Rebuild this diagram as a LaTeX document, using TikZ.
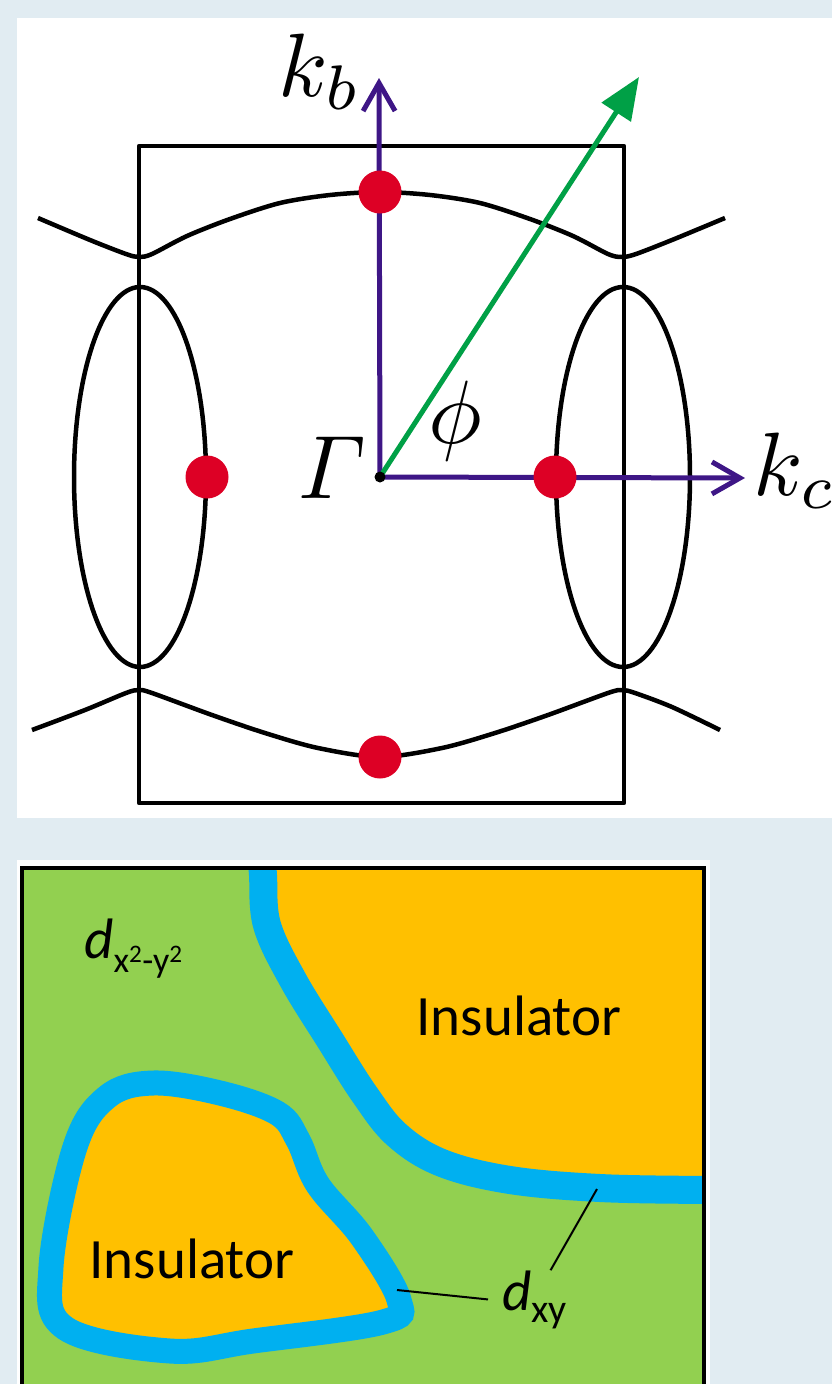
\documentclass[tikz,border=0pt]{standalone}
\usepackage{amsmath}
\usepackage{fontspec}
\newfontfamily\calibfont{Carlito}
\usetikzlibrary{arrows.meta, positioning}

\definecolor{bgblue}{RGB}{225,236,242}
\definecolor{axispurple}{RGB}{62,22,134}
\definecolor{arrowgreen}{RGB}{0,160,70}
\definecolor{dotred}{RGB}{221,0,37}
\definecolor{phasegreen}{RGB}{146,208,80}
\definecolor{phaseorange}{RGB}{255,192,0}
\definecolor{phaseblue}{RGB}{0,176,240}

\begin{document}
\begin{tikzpicture}[
    x=1pt, y=-1pt,
    fermi/.style={line width=4.5pt, draw=black, line join=round},
    axis/.style={line width=5pt, draw=axispurple, -{Straight Barb[length=28pt, width=32pt]}},
    qvec/.style={line width=5pt, draw=arrowgreen, -{Triangle[length=42pt, width=34pt]}},
    kpoint/.style={circle, fill=dotred, minimum size=43pt, inner sep=0pt},
    gammadot/.style={circle, fill=black, minimum size=11pt, inner sep=0pt},
    mathlbl/.style={inner sep=0pt, scale=9},
    phaselbl/.style={inner sep=0pt, font=\calibfont\fontsize{57}{64}\selectfont},
    leader/.style={line width=2pt, draw=black}
]
\useasboundingbox (0,0) rectangle (832,1384);
\fill[bgblue] (0,0) rectangle (832,1384);

% --- top panel: Brillouin zone ---
\fill[white] (17,18) rectangle (832,818);
\draw[fermi] (139,146) rectangle (624,803);

\draw[fermi] plot[smooth, tension=0.5] coordinates {(38,218) (90,240) (126,254) (139,257) (152,254) (187,236) (230,219) (280,203) (330,195) (380,192) (430,195) (480,203) (530,219) (573,236) (608,254) (622,257) (636,254) (672,240) (725,218)};
\draw[fermi] plot[smooth, tension=0.5] coordinates {(32,730) (85,710) (126,693) (139,690) (152,693) (212,715) (265,733) (318,748) (380,757) (442,748) (495,733) (548,715) (608,693) (622,690) (635,693) (672,707) (720,730)};
\draw[fermi] (140,477) ellipse [x radius=66, y radius=190];
\draw[fermi] (623,477) ellipse [x radius=67, y radius=190];

\coordinate (G) at (380,477);
\coordinate (kbend) at (379,78);
\coordinate (kcend) at (745,478);
\coordinate (qend) at (639,77);

\draw[axis] (G) -- (kbend);
\draw[axis] (G) -- (kcend);
\draw[qvec] (G) -- (qend);

\node[kpoint] (dotT) at (380,192) {};
\node[kpoint] (dotB) at (380,757) {};
\node[kpoint] (dotL) at (207,477) {};
\node[kpoint] (dotR) at (555,477) {};
\node[gammadot] (Gdot) at (G) {};

\node[mathlbl, anchor=base east] (kblabel) at (363,96) {$k_b$};
\node[mathlbl, anchor=base west] (kclabel) at (752,495) {$k_c$};
\node[mathlbl, anchor=base east] (glabel) at (368,498) {$\varGamma$};
\node[mathlbl, anchor=base] (philabel) at (455,443) {$\phi$};

% --- bottom panel: phase map ---
\fill[white] (17,860) rectangle (710,1384);
\begin{scope}
\clip (22,868) rectangle (704,1384);
\fill[phasegreen] (22,868) rectangle (704,1384);
\fill[phaseorange] plot[smooth, tension=0.6] coordinates {(262,860) (263,875) (267,925) (293,980) (330,1040) (365,1095) (397,1135) (442,1163) (510,1180) (600,1188) (703,1190) (712,1190)} -- (712,860) -- cycle;
\draw[phaseblue, line width=28pt] plot[smooth, tension=0.6] coordinates {(262,860) (263,875) (267,925) (293,980) (330,1040) (365,1095) (397,1135) (442,1163) (510,1180) (600,1188) (703,1190) (712,1190)};
\filldraw[fill=phaseorange, draw=phaseblue, line width=25pt] plot[smooth cycle, tension=0.6] coordinates {(153,1083) (220,1093) (277,1113) (298,1140) (318,1185) (362,1237) (399,1300) (383,1322) (253,1341) (170,1351) (65,1328) (51,1267) (75,1147) (107,1097)};
\end{scope}
\draw[line width=4pt] (22,868) rectangle (704,1400);

\node[phaselbl, anchor=base] (insA) at (519,1035) {Insulator};
\node[phaselbl, anchor=base] (insB) at (192,1278) {Insulator};
\node[phaselbl, anchor=base west] (dxx) at (84,958) {\textit{d}\raisebox{-14pt}{\fontsize{36}{40}\selectfont x\textsuperscript{2}-y\textsuperscript{2}}};
\node[phaselbl, anchor=base west] (dxy) at (502,1310) {\textit{d}\raisebox{-12pt}{\fontsize{40}{44}\selectfont xy}};

\coordinate (tipA) at (397,1290);
\coordinate (tipB) at (597,1189);
\draw[leader] ([xshift=-14pt]dxy.west) -- (tipA);
\draw[leader] ([xshift=16pt]dxy.north) -- (tipB);
\end{tikzpicture}
\end{document}
